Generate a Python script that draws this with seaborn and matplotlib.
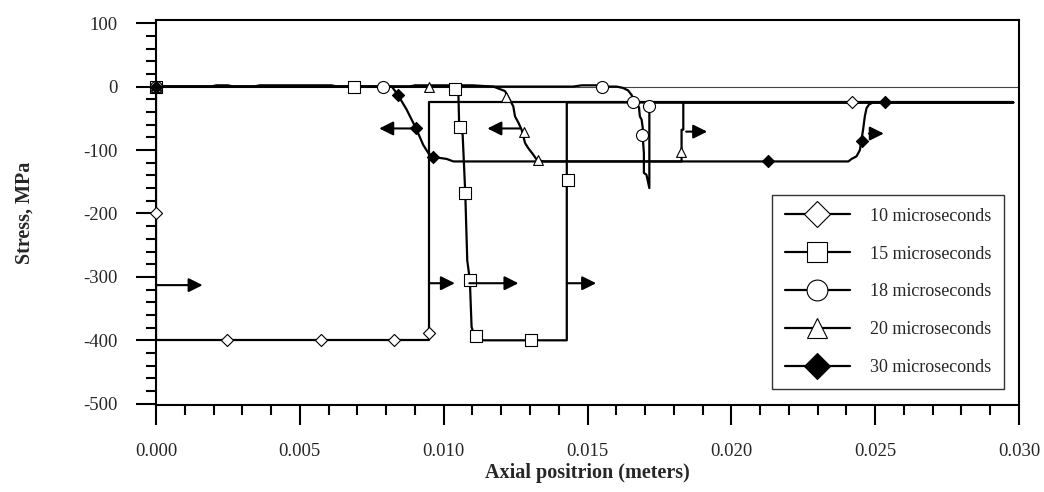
import numpy as np
import pandas as pd
import matplotlib
matplotlib.use("Agg")
import matplotlib.pyplot as plt
from matplotlib.lines import Line2D
import seaborn as sns

# ---------------- data (x in meters, y in MPa) ----------------
labels = ["10 microseconds", "15 microseconds", "18 microseconds",
          "20 microseconds", "30 microseconds"]

# 10 microseconds
x10 = [0.0, 0.0, 0.0, 0.0095, 0.0095, 0.0298]
y10 = [0, -200, -400, -400, -25, -25]
mx10 = [0.0, 0.0, 0.00247, 0.00573, 0.00827, 0.0095, 0.0242]
my10 = [0, -200, -400, -400, -400, -388, -25]

# 15 microseconds
x15 = [0.0, 0.0069, 0.01043, 0.01051, 0.01054, 0.01066, 0.01075, 0.01082,
       0.01091, 0.01097, 0.01109, 0.0112, 0.01428, 0.01428, 0.0298]
y15 = [0, 0, 0, -7, -63, -76, -167, -274, -305, -379, -396, -400, -400, -25, -25]
mx15 = [0.0, 0.00688, 0.0104, 0.01057, 0.01074, 0.01091, 0.01112, 0.01303, 0.01432]
my15 = [0, 0, -3, -63, -167, -305, -393, -400, -148]

# 18 microseconds
x18 = [0.0, 0.0145, 0.0148, 0.0153, 0.0155, 0.01601, 0.01623, 0.01641, 0.01653,
       0.01658, 0.01671, 0.01679, 0.01682, 0.01688, 0.01692, 0.01692, 0.01696,
       0.01696, 0.01705, 0.01715, 0.01715, 0.01715, 0.0298]
y18 = [0, 0, 2, 2, 0, 0, -2, -6, -13, -18, -26, -33, -47, -52, -65, -79, -105,
       -136, -139, -160, -160, -25, -25]
mx18 = [0.0, 0.0079, 0.0155, 0.01658, 0.0169, 0.01714]
my18 = [0, 0, 0, -24, -77, -30]

# 20 microseconds
x20 = [0.0, 0.0088, 0.0090, 0.0110, 0.01173, 0.01213, 0.0123, 0.01242, 0.01248,
       0.0126, 0.01271, 0.01283, 0.01294, 0.01311, 0.01323, 0.01346, 0.01827,
       0.01827, 0.01833, 0.01833, 0.0298]
y20 = [0, 0, 2, 2, 0, -7, -21, -31, -47, -57, -68, -89, -97, -107, -115, -118,
       -118, -68, -68, -25, -25]
mx20 = [0.0, 0.0095, 0.01216, 0.01279, 0.01329, 0.01825]
my20 = [0, 0, -17, -72, -115, -103]

# 30 microseconds
x30 = [0.0, 0.0019, 0.0021, 0.0025, 0.0027, 0.0034, 0.0036, 0.0061, 0.0063,
       0.0082, 0.00842, 0.00871, 0.00904, 0.00929, 0.00947, 0.00964, 0.0101,
       0.01034, 0.02407, 0.02418, 0.02435, 0.02447, 0.02452, 0.02458, 0.02464,
       0.0247, 0.02479, 0.02493, 0.0298]
y30 = [0, 0, 2, 2, 0, 0, 2, 2, 0, 0, -14, -36, -66, -92, -105, -111, -114,
       -118, -118, -114, -110, -100, -85, -68, -47, -34, -28, -25, -25]
mx30 = [0.0, 0.00842, 0.00904, 0.00963, 0.02127, 0.02454, 0.02534]
my30 = [0, -14, -66, -111, -118, -85, -25]

# wave-direction arrows: tail x, head x, y
arrow_tail_x = [0.0, 0.00895, 0.00952, 0.01089, 0.01428, 0.01265, 0.01843, 0.02478]
arrow_head_x = [0.00162, 0.00776, 0.01039, 0.0126, 0.0153, 0.01152, 0.01916, 0.0253]
arrow_y = [-313, -66, -310, -310, -310, -66, -71, -74]

x_ticks = [0.000, 0.005, 0.010, 0.015, 0.020, 0.025, 0.030]
x_tick_labels = ["0.000", "0.005", "0.010", "0.015", "0.020", "0.025", "0.030"]
y_ticks = [100, 0, -100, -200, -300, -400, -500]
y_tick_labels = ["100", "0", "-100", "-200", "-300", "-400", "-500"]

# ---------------- styling ----------------
sns.set_style("ticks")
plt.rcParams["font.family"] = ["Liberation Serif", "DejaVu Serif"]

W, H = 1044, 492
fig = plt.figure(figsize=(W / 100, H / 100), dpi=100)
ax = fig.add_axes([156 / W, 1 - 405 / H, 863 / W, 385 / H])

lw = 1.6
series = [
    (x10, y10, mx10, my10, "D", "white", 38),
    (x15, y15, mx15, my15, "s", "white", 70),
    (x18, y18, mx18, my18, "o", "white", 75),
    (x20, y20, mx20, my20, "^", "white", 50),
    (x30, y30, mx30, my30, "D", "black", 38),
]

ax.axhline(0, color="#444444", lw=0.8, zorder=1)

for i, (lx, ly, px, py, mk, fc, s) in enumerate(series):
    df_line = pd.DataFrame({"x": lx, "y": ly})
    sns.lineplot(data=df_line, x="x", y="y", sort=False, estimator=None,
                 color="black", lw=lw, ax=ax, zorder=2 + i)
for i, (lx, ly, px, py, mk, fc, s) in enumerate(series):
    df_pts = pd.DataFrame({"x": px, "y": py})
    sns.scatterplot(data=df_pts, x="x", y="y", marker=mk, s=s, facecolor=fc,
                    edgecolor="black", linewidth=0.8, ax=ax, zorder=10 + i,
                    clip_on=False, legend=False)

for tx, hx, yy in zip(arrow_tail_x, arrow_head_x, arrow_y):
    ax.annotate("", xy=(hx, yy), xytext=(tx, yy),
                arrowprops=dict(arrowstyle="-|>", mutation_scale=21, lw=1.5,
                                color="black", shrinkA=0, shrinkB=0),
                zorder=20)

ax.set_xlim(0, 0.030)
ax.set_ylim(-502, 105)
ax.set_xticks(x_ticks)
ax.set_xticklabels(x_tick_labels)
ax.set_yticks(y_ticks)
ax.set_yticklabels(y_tick_labels)
ax.set_xticks(np.arange(0, 0.0301, 0.001), minor=True)
ax.set_yticks(np.arange(-500, 101, 20), minor=True)
ax.tick_params(axis="both", which="major", direction="out", length=14.4,
               width=1.5, color="black", labelsize=13.5, pad=13)
ax.tick_params(axis="both", which="minor", direction="out", length=7.2,
               width=1.5, color="black")
for sp in ax.spines.values():
    sp.set_visible(True)
    sp.set_color("black")
    sp.set_linewidth(1.5)

ax.set_xlabel("Axial positrion (meters)", fontsize=14.5, fontweight="bold",
              labelpad=2)
ax.set_ylabel("Stress, MPa", fontsize=14.5, fontweight="bold", labelpad=35)
ax.grid(False)

handles = []
for (lx, ly, px, py, mk, fc, s), lab in zip(series, labels):
    handles.append(Line2D([], [], color="black", lw=lw, marker=mk,
                          markersize=15 if mk != "D" else 13,
                          markerfacecolor=fc, markeredgecolor="black",
                          markeredgewidth=0.8, label=lab))
leg = ax.legend(handles=handles, loc="upper left",
                bbox_to_anchor=(0.714, 0.545), borderaxespad=0,
                fontsize=13, handlelength=3.6, handletextpad=1.1,
                labelspacing=1.15, borderpad=0.7, frameon=True, fancybox=False,
                framealpha=1, edgecolor="#333333")
leg.get_frame().set_linewidth(1.0)
leg.set_zorder(30)

fig.savefig("out.png", dpi=100)
